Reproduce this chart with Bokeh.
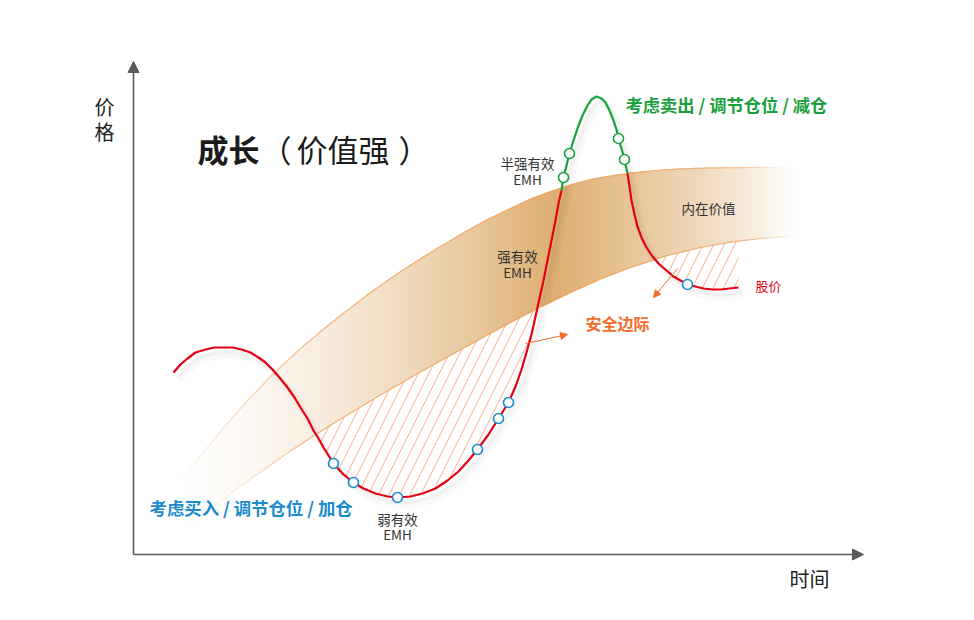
import numpy as np
from bokeh.plotting import figure
from bokeh.models import Range1d, Arrow, NormalHead
from bokeh.core.properties import value
from bokeh.embed import file_html
from bokeh.resources import INLINE

# ---------------- data (chart coordinates: time -> x, price -> y, screen-like) -------------
# stock price path
price_x = [173, 180, 187, 195, 205, 214, 223, 232, 241, 250, 258, 265, 272, 279, 287, 294, 300,
           307, 313, 318, 323, 328, 333, 343, 353, 363, 375, 387, 397, 410, 422, 435, 447, 458,
           468, 477, 488, 498, 508, 515, 521, 526, 531, 535, 539, 543, 547, 551, 555, 558, 561,
           563, 566, 569, 573, 577, 582, 587, 591, 596, 601, 605, 609, 613, 616, 618, 621, 624,
           627, 629, 631, 634, 637, 641, 646, 652, 659, 666, 673, 680, 687, 695, 703, 712, 720,
           729, 738]
price_y = [372, 364, 358, 352, 349, 347, 347, 347, 349, 352, 357, 362, 369, 377, 387, 397, 407,
           418, 430, 438, 447, 455, 463, 474, 482, 488, 493, 496, 497, 496, 493, 488, 480, 471,
           460, 449, 434, 418, 402, 386, 369, 352, 334, 316, 298, 280, 260, 240, 220, 203, 190,
           177, 165, 153, 140, 128, 115, 105, 99, 96, 98, 102, 110, 120, 129, 138, 148, 159,
           173, 186, 200, 214, 226, 237, 247, 256, 264, 270, 276, 280, 284, 286, 288, 289, 289,
           288, 287]
# intrinsic value band edges
upper_x = [182, 190, 210, 230, 250, 270, 285, 300, 320, 340, 370, 400, 430, 460, 485, 510, 530,
           550, 570, 590, 610, 630, 650, 670, 690, 710, 750, 795]
upper_y = [478, 468, 443, 419, 397, 376, 362, 348, 331, 315, 292, 271, 252, 234, 220, 208, 198.5,
           191, 184.5, 179, 175.5, 172.5, 170.5, 169, 168, 167.5, 167, 166.5]
lower_x = [182, 190, 225, 260, 290, 317, 340, 380, 420, 465, 510, 540, 570, 600, 630, 665, 700,
           730, 760, 795]
lower_y = [529.5, 523, 496.5, 471.5, 450.5, 433, 418.5, 394.5, 371.5, 346.5, 322, 306.5, 292,
           278.5, 267, 255.5, 247, 241.5, 238, 235.5]
# marked observation points
buy_x = [333, 353, 397, 477, 498, 508, 687]
buy_y = [463, 482, 497, 449, 418, 402, 284]
sell_x = [563, 569, 618, 624]
sell_y = [177, 153, 138, 159]

# ---------------- styling -------------
FONT = value("Noto Sans CJK SC")
RED = "#e60012"
GREEN = "#17a03c"
BLUE = "#1a8bcc"
ORANGE = "#f26c2c"
AXIS = "#5a5a5a"

p = figure(width=958, height=604, output_backend="svg", toolbar_location=None,
           x_range=Range1d(0, 958), y_range=Range1d(604, 0), min_border=0)
p.xaxis.visible = False
p.yaxis.visible = False
p.xgrid.grid_line_color = None
p.ygrid.grid_line_color = None
p.outline_line_color = None
p.background_fill_color = "white"
p.border_fill_color = "white"

# ---- intrinsic value band with horizontal gradient (drawn as thin slices) ----
gx = np.arange(182, 796, 2.0)
gu = np.interp(gx, upper_x, upper_y)
gl = np.interp(gx, lower_x, lower_y)
stop_x = [182, 230, 300, 400, 480, 555, 620, 700, 760, 795]
stop_s = [0.0, 0.05, 0.17, 0.42, 0.68, 0.95, 0.72, 0.45, 0.18, 0.0]
dark = np.array([220, 170, 104])
white = np.array([255, 255, 255])
xs, ys, cols = [], [], []
for i in range(len(gx) - 1):
    s = np.interp((gx[i] + gx[i + 1]) / 2, stop_x, stop_s)
    c = (white * (1 - s) + dark * s).round().astype(int)
    cols.append("#%02x%02x%02x" % tuple(c))
    xs.append([gx[i], gx[i + 1], gx[i + 1], gx[i]])
    ys.append([gu[i], gu[i + 1], gl[i + 1], gl[i]])
p.patches(xs, ys, fill_color=cols, line_color=cols, line_width=1)

# band edge outlines (fading at ends)
def edge(ex, ey, a_x, a_v):
    ex = np.asarray(ex, float); ey = np.asarray(ey, float)
    fx = np.arange(ex[0], ex[-1], 3.0)
    fy = np.interp(fx, ex, ey)
    al = np.interp((fx[:-1] + fx[1:]) / 2, a_x, a_v)
    p.segment(fx[:-1], fy[:-1], fx[1:], fy[1:], line_color="#f3a056", line_width=1.1,
              line_alpha=al)

edge(upper_x, upper_y, [182, 230, 320, 720, 780], [0.1, 0.35, 0.85, 0.8, 0.0])
edge(lower_x, lower_y, [182, 240, 320, 740, 795], [0.0, 0.2, 0.85, 0.8, 0.0])

# ---- safety margin hatch (between value band bottom and price) ----
px = np.array(price_x, float)
py = np.array(price_y, float)
m1 = (px >= 318) & (px <= 539)
m2 = (px >= 652)
for m in (m1, m2):
    p.varea(x=px[m], y1=py[m], y2=np.interp(px[m], lower_x, lower_y), fill_alpha=0,
            hatch_pattern="/", hatch_color="#f59a70", hatch_scale=21, hatch_weight=1.0,
            hatch_alpha=0.8)

# ---- soft shadow under the price line ----
p.line(px + 5, py + 7, line_color="#000000", line_alpha=0.025, line_width=9)
p.line(px + 4, py + 5, line_color="#000000", line_alpha=0.03, line_width=4)

# ---- price line: red below/inside band, green above it ----
i_g0 = price_x.index(561)
i_g1 = price_x.index(627)
p.line(price_x[:i_g0 + 1], price_y[:i_g0 + 1], line_color=RED, line_width=2.2)
p.line(price_x[i_g0:i_g1 + 1], price_y[i_g0:i_g1 + 1], line_color=GREEN, line_width=2.2)
p.line(price_x[i_g1:], price_y[i_g1:], line_color=RED, line_width=2.2)

p.scatter(buy_x, buy_y, size=10, marker="circle", fill_color="white", line_color=BLUE,
          line_width=1.6)
p.scatter(sell_x, sell_y, size=10, marker="circle", fill_color="white", line_color=GREEN,
          line_width=1.6)

# ---- axes with arrows ----
p.add_layout(Arrow(end=NormalHead(size=11, fill_color=AXIS, line_color=AXIS),
                   x_start=133, y_start=554, x_end=133, y_end=61,
                   line_color=AXIS, line_width=1.6))
p.add_layout(Arrow(end=NormalHead(size=11, fill_color=AXIS, line_color=AXIS),
                   x_start=133, y_start=554, x_end=863, y_end=554,
                   line_color=AXIS, line_width=1.6))

# ---- safety margin pointer arrows ----
p.add_layout(Arrow(end=NormalHead(size=7, fill_color=ORANGE, line_color=ORANGE),
                   x_start=525, y_start=343, x_end=567, y_end=334,
                   line_color=ORANGE, line_width=1))
p.add_layout(Arrow(end=NormalHead(size=7, fill_color=ORANGE, line_color=ORANGE),
                   x_start=677, y_start=268, x_end=653, y_end=297,
                   line_color=ORANGE, line_width=1))

# ---- texts ----
def txt(x, y, t, size, color="#333333", style="normal", align="center"):
    p.text(x=[x], y=[y], text=[t], text_font=FONT, text_font_size=value(size),
           text_color=color, text_font_style=style, text_align=align,
           text_baseline="middle")

txt(104, 106, "价", "20px", "#222222")
txt(104, 131, "格", "20px", "#222222")
txt(809, 578, "时间", "20px", "#222222")

txt(197, 148, "成长", "31px", "#1a1a1a", "bold", "left")
txt(260, 148, "（", "31px", "#1a1a1a", "normal", "left")
txt(296, 148, "价值强", "31px", "#1a1a1a", "normal", "left")
txt(398, 148, "）", "31px", "#1a1a1a", "normal", "left")

txt(625, 104, "考虑卖出 / 调节仓位 / 减仓", "17.3px", GREEN, "bold", "left")
txt(149, 507, "考虑买入 / 调节仓位 / 加仓", "17.4px", BLUE, "bold", "left")

txt(527, 162, "半强有效", "13.5px")
txt(527, 178, "EMH", "13.5px")
txt(517, 255, "强有效", "13.5px")
txt(517, 271, "EMH", "13.5px")
txt(397, 518, "弱有效", "13.5px")
txt(397, 533, "EMH", "13.5px")
txt(708, 207, "内在价值", "13.5px")
txt(755, 285, "股价", "13px", RED, "normal", "left")
txt(617, 322, "安全边际", "16px", ORANGE, "bold")

open("out.html", "w").write(file_html(p, INLINE))
